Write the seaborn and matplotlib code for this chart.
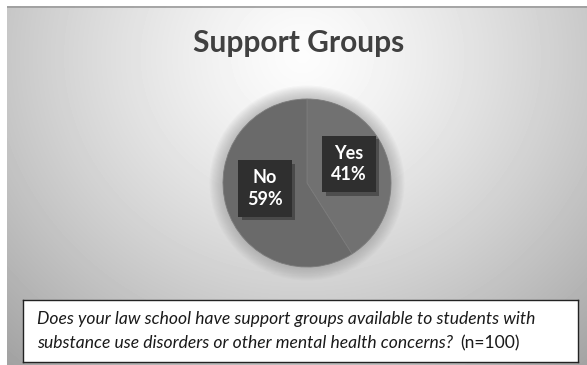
import numpy as np
import matplotlib
matplotlib.use("Agg")
import matplotlib.pyplot as plt
import matplotlib.patheffects as pe
import seaborn as sns
from matplotlib.patches import Circle

sns.set_theme(style="white")
plt.rcParams["font.family"] = ["Lato", "DejaVu Sans"]

# Survey responses
categories = ["Yes", "No"]
shares = [41, 59]
title = "Support Groups"
question_lines = ["Does your law school have support groups available to students with",
                  "substance use disorders or other mental health concerns?"]
sample_note = "(n=100)"

W, H = 587, 365
fig = plt.figure(figsize=(W / 100, H / 100), dpi=100)
fig.patch.set_facecolor("white")

# Chart area background: soft radial gradient, bright near the title
bg = fig.add_axes([7 / W, 0, 1 - 7 / W, 1 - 6 / H])
yy, xx = np.mgrid[0:359, 0:580]
cx, cy = 295, 50
d = np.sqrt(((xx - cx) / 360.0) ** 2 + ((yy - cy) / 330.0) ** 2)
shade = np.clip(0.99 - 0.27 * d ** 1.3, 0, 1)
bg.imshow(shade, cmap="gray", vmin=0, vmax=1, aspect="auto",
          extent=[0, 580, 359, 0], interpolation="bilinear")
bg.plot([0, 580], [0.5, 0.5], color="#9a9a9a", lw=1.2)
bg.set_xlim(0, 580)
bg.set_ylim(359, 0)
bg.axis("off")

# Pie chart
pcx, pcy, R = 307, 183, 84
pad = 1.35
ax = fig.add_axes([(pcx - R * pad) / W, 1 - (pcy + R * pad) / H,
                   2 * R * pad / W, 2 * R * pad / H])

# soft glow around the pie
for r in np.linspace(1.16, 1.0, 12):
    ax.add_patch(Circle((0, 0), r, color="#8a8a8a", alpha=0.05, lw=0, zorder=0))

colors = ["#717171", "#6a6a6a"]
wedges, _ = ax.pie(shares, colors=colors, startangle=90, counterclock=False,
                   radius=1.0, wedgeprops=dict(edgecolor="#7c7c7c", linewidth=0.6))
ax.set_xlim(-pad, pad)
ax.set_ylim(-pad, pad)
ax.set_aspect("equal")
ax.axis("off")

for w, lab, val in zip(wedges, categories, shares):
    mid = np.deg2rad((w.theta1 + w.theta2) / 2)
    x = 0.52 * np.cos(mid)
    y = 0.52 * np.sin(mid) + 0.08
    t = ax.text(x, y, f"{lab}\n{val}%", ha="center", va="center",
                fontsize=13, fontweight="bold", color="white", linespacing=1.3,
                bbox=dict(boxstyle="square,pad=0.5", fc="#2f2f2f", ec="none"),
                zorder=5)
    t.get_bbox_patch().set_path_effects(
        [pe.SimplePatchShadow(offset=(2.5, -2.5), shadow_rgbFace="black", alpha=0.3),
         pe.Normal()])

# Title
fig.text(299 / W, 1 - 43 / H, title, ha="center", va="center",
         fontsize=21.5, fontweight="bold", color="#404040")

# Question box
box = fig.add_axes([23 / W, 1 - 362 / H, (578 - 23) / W, (362 - 300) / H])
box.set_xlim(0, 555)
box.set_ylim(62, 0)
box.set_xticks([])
box.set_yticks([])
box.set_facecolor("white")
for s in box.spines.values():
    s.set_color("#222222")
    s.set_linewidth(1.0)
box.text(14, 19, question_lines[0], ha="left", va="center",
         fontsize=12.6, style="italic", color="#1a1a1a")
t2 = box.text(14, 43, question_lines[1], ha="left", va="center",
              fontsize=12.6, style="italic", color="#1a1a1a")
fig.canvas.draw()
bb = t2.get_window_extent()
x_end = box.transData.inverted().transform((bb.x1, bb.y0))[0]
box.text(x_end + 7, 43, sample_note, ha="left", va="center",
         fontsize=12.6, color="#1a1a1a")

fig.savefig("out.png", dpi=100)
